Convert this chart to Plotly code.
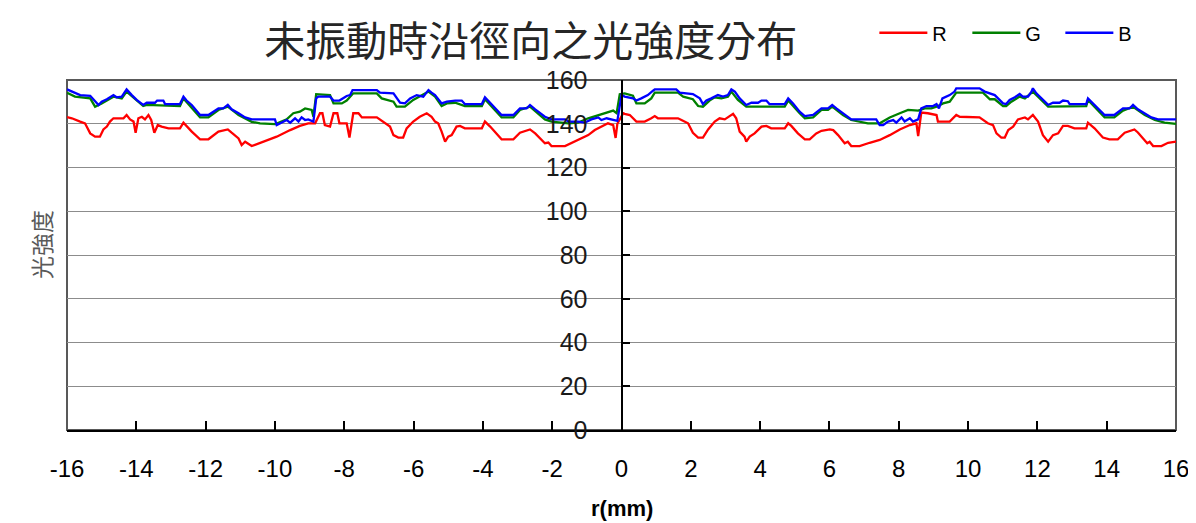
import plotly.graph_objects as go

# ---------------- data ----------------
r_x = [-16.0, -15.86, -15.62, -15.48, -15.33, -15.19, -15.05, -14.95, -14.85, -14.76, -14.66, -14.37, -14.28,
       -14.18, -14.08, -14.02, -13.94, -13.84, -13.75, -13.65, -13.57, -13.48, -13.38, -13.27, -13.07, -12.74,
       -12.64, -12.55, -12.40, -12.16, -11.92, -11.63, -11.49, -11.36, -11.25, -11.05, -10.96, -10.86, -10.67,
       -10.33, -9.95, -9.56, -9.28, -9.04, -8.84, -8.70, -8.63, -8.56, -8.41, -8.31, -8.20, -8.14, -7.93,
       -7.85, -7.79, -7.74, -7.59, -7.49, -7.06, -6.87, -6.68, -6.58, -6.44, -6.30, -6.20, -6.01, -5.82,
       -5.62, -5.48, -5.38, -5.29, -5.19, -5.09, -5.00, -4.90, -4.76, -4.66, -4.52, -4.03, -3.94, -3.79,
       -3.46, -3.12, -2.93, -2.74, -2.64, -2.49, -2.30, -2.21, -2.11, -2.02, -1.63, -1.44, -1.25, -0.96,
       -0.77, -0.58, -0.39, -0.24, -0.17, -0.12, -0.05, 0.05, 0.09, 0.24, 0.43, 0.67, 0.86, 0.96, 1.05,
       1.63, 1.73, 1.92, 2.06, 2.21, 2.35, 2.50, 2.69, 2.83, 2.98, 3.07, 3.22, 3.31, 3.41, 3.55, 3.60,
       3.70, 3.84, 4.04, 4.18, 4.32, 4.71, 4.81, 4.90, 5.09, 5.29, 5.43, 5.62, 5.77, 6.01, 6.11, 6.25,
       6.44, 6.53, 6.63, 6.87, 7.16, 7.45, 7.74, 8.03, 8.32, 8.51, 8.56, 8.60, 8.65, 8.84, 9.09, 9.13,
       9.47, 9.66, 9.76, 10.33, 10.48, 10.57, 10.72, 10.82, 10.96, 11.06, 11.16, 11.30, 11.44, 11.64,
       11.73, 11.87, 12.02, 12.16, 12.31, 12.45, 12.60, 12.74, 12.88, 13.07, 13.41, 13.46, 13.65, 13.89,
       14.08, 14.32, 14.52, 14.71, 14.80, 14.90, 15.05, 15.17, 15.24, 15.34, 15.58, 15.77, 16.0]
r_y = [143.0, 142.5, 141.0, 140.2, 135.6, 134.1, 134.1, 137.4, 138.7, 141.0, 142.5, 142.5, 144.0,
       142.0, 141.0, 135.9, 142.5, 143.2, 142.0, 144.0, 141.7, 135.9, 139.4, 138.7, 137.9, 137.9,
       140.5, 139.0, 136.4, 132.9, 132.9, 136.4, 136.8, 137.4, 135.9, 133.3, 130.3, 131.8, 129.8,
       131.8, 134.1, 137.1, 139.0, 140.2, 140.2, 144.8, 144.8, 139.4, 138.7, 144.8, 144.8, 140.2, 140.2,
       133.7, 140.2, 144.8, 144.8, 142.9, 142.9, 141.0, 138.7, 134.8, 133.7, 133.7, 137.9, 141.0, 143.2,
       144.8, 143.2, 141.0, 140.2, 136.4, 131.8, 134.1, 134.8, 138.7, 139.0, 137.9, 137.9, 141.0, 138.7,
       132.9, 132.9, 135.9, 136.8, 137.4, 135.6, 132.6, 131.1, 131.4, 129.8, 129.8, 131.3, 132.6, 134.8,
       137.1, 138.7, 140.2, 139.4, 133.5, 140.0, 142.0, 144.8, 144.5, 144.0, 141.0, 141.0, 142.5, 143.5, 142.5,
       142.5, 141.7, 140.2, 135.9, 133.7, 133.7, 137.4, 141.0, 142.5, 142.0, 142.9, 144.5, 142.5, 136.4, 134.1, 131.8,
       134.1, 135.6, 138.7, 139.0, 137.9, 137.9, 140.2, 139.0, 135.6, 132.9, 132.9, 135.6, 136.8, 137.4, 137.1, 134.8,
       131.1, 131.8, 129.8, 129.8, 131.3, 132.6, 134.8, 137.4, 139.4, 140.2, 134.4, 140.2, 145.1, 144.8, 144.0, 141.0,
       141.0, 144.0, 143.2, 142.9, 141.0, 140.2, 139.4, 135.6, 133.7, 133.7, 137.1, 138.7, 142.0, 142.9,
       142.0, 144.0, 141.0, 134.8, 131.8, 134.8, 135.6, 139.0, 139.0, 137.9, 137.9, 140.5, 137.9, 133.7,
       132.9, 132.9, 135.9, 136.8, 137.4, 136.0, 133.3, 131.1, 131.8, 129.8, 129.8, 131.3, 131.8]

g_x = [-16.0, -15.77, -15.33, -15.19, -15.0, -14.66, -14.42, -14.28, -13.80, -13.70, -12.74, -12.64, -12.16,
       -11.92, -11.63, -11.36, -11.05, -10.67, -10.43, -10.0, -9.66, -9.47, -9.28, -9.13, -8.94, -8.89,
       -8.81, -8.41, -8.31, -8.07, -7.93, -7.74, -7.06, -6.92, -6.58, -6.49, -6.25, -6.01, -5.57, -5.38,
       -5.19, -5.04, -4.80, -4.52, -4.03, -3.94, -3.46, -3.12, -2.93, -2.64, -2.21, -2.02, -1.53, -1.25,
       -0.96, -0.67, -0.48, -0.24, -0.14, -0.05, 0.09, 0.33, 0.43, 0.67, 0.86, 0.96, 1.63, 1.78, 2.06,
       2.21, 2.35, 2.54, 2.69, 2.88, 3.07, 3.17, 3.36, 3.60, 4.71, 4.81, 5.14, 5.29, 5.53, 5.77, 5.96,
       6.08, 6.20, 6.39, 6.63, 6.92, 7.11, 7.45, 7.74, 8.03, 8.27, 8.56, 8.75, 8.94, 9.09, 9.28, 9.47,
       9.66, 10.43, 10.63, 10.77, 11.01, 11.10, 11.25, 11.49, 11.64, 11.87, 12.31, 12.93, 13.41, 13.46,
       13.94, 14.22, 14.47, 14.76, 15.10, 15.39, 15.67, 16.0]
g_y = [154.2, 152.4, 151.6, 147.8, 149.3, 152.4, 151.6, 154.7, 148.1, 148.6, 148.1, 151.6, 142.9,
       142.9, 146.3, 147.8, 144.0, 140.9, 140.2, 139.8, 142.0, 144.8, 145.5, 147.0, 146.3, 143.2,
       153.5, 153.1, 149.3, 149.3, 150.6, 153.9, 153.9, 151.6, 150.1, 147.8, 147.8, 150.9, 154.7, 152.4,
       148.1, 149.3, 149.6, 148.1, 148.1, 151.2, 142.9, 142.9, 146.3, 147.8, 142.0, 141.0, 140.2, 140.5,
       142.5, 144.0, 145.1, 146.0, 144.8, 153.5, 153.9, 152.8, 149.3, 149.3, 151.6, 154.2, 154.2, 152.4, 151.2,
       148.1, 147.8, 150.6, 152.1, 151.6, 152.4, 154.7, 150.9, 147.8, 147.8, 150.6, 144.8, 142.5, 142.9, 146.3, 146.3,
       147.8, 146.3, 144.0, 141.7, 141.0, 140.2, 140.2, 142.9, 144.8, 146.3, 146.0, 147.0, 147.0, 147.8, 149.3, 150.1,
       154.2, 154.2, 151.2, 151.2, 148.1, 148.1, 150.1, 152.4, 151.6, 154.7, 147.8, 147.8, 148.1, 150.9,
       142.9, 142.9, 146.0, 147.8, 144.0, 141.7, 140.5, 139.9]

b_x = [-16.0, -15.77, -15.62, -15.33, -15.09, -15.0, -14.85, -14.66, -14.57, -14.42, -14.28, -14.13, -13.99,
       -13.80, -13.70, -13.46, -13.40, -13.22, -13.17, -12.74, -12.64, -12.55, -12.40, -12.16, -11.92, -11.63,
       -11.49, -11.36, -11.25, -11.05, -10.86, -10.67, -10.0, -9.95, -9.80, -9.66, -9.56, -9.42, -9.32, -9.23,
       -9.13, -9.04, -8.89, -8.81, -8.75, -8.41, -8.31, -8.14, -7.93, -7.83, -7.76, -7.06, -6.97, -6.58, -6.39,
       -6.25, -6.10, -5.91, -5.72, -5.57, -5.48, -5.38, -5.19, -5.04, -4.80, -4.61, -4.52, -4.03, -3.94, -3.79,
       -3.46, -3.12, -2.93, -2.74, -2.64, -2.49, -2.21, -2.02, -1.63, -1.53, -1.25, -1.06, -0.87, -0.67, -0.58,
       -0.43, -0.24, -0.12, 0.0, 0.09, 0.33, 0.43, 0.57, 0.76, 0.91, 0.96, 1.58, 1.68, 2.06, 2.26, 2.35, 2.45,
       2.59, 2.78, 2.93, 3.07, 3.17, 3.27, 3.41, 3.60, 3.75, 3.94, 4.04, 4.18, 4.27, 4.71, 4.81, 4.95, 5.14,
       5.29, 5.53, 5.77, 5.96, 6.08, 6.20, 6.39, 6.63, 7.35, 7.45, 7.55, 7.69, 7.84, 7.93, 8.08, 8.17, 8.32,
       8.41, 8.56, 8.65, 8.80, 8.99, 9.09, 9.16, 9.26, 9.47, 9.61, 9.66, 10.33, 10.48, 10.77, 11.01, 11.10,
       11.20, 11.35, 11.49, 11.58, 11.73, 11.83, 11.87, 11.97, 12.16, 12.31, 12.45, 12.64, 12.74, 12.88,
       12.93, 13.41, 13.46, 13.65, 13.94, 14.22, 14.47, 14.66, 14.76, 14.90, 15.10, 15.29, 15.48, 16.0]
b_y = [155.7, 153.9, 153.1, 152.8, 148.6, 150.1, 151.2, 153.1, 152.1, 152.4, 155.7, 153.1, 150.9,
       148.6, 149.6, 149.6, 150.6, 150.6, 149.0, 149.0, 152.4, 150.6, 148.6, 144.0, 144.0, 147.0,
       147.0, 148.6, 146.6, 144.8, 142.9, 142.0, 142.0, 139.4, 140.5, 141.7, 140.5, 142.5, 141.0, 142.9,
       141.7, 142.0, 141.0, 151.6, 152.4, 152.4, 150.6, 150.6, 152.7, 153.1, 155.4, 155.4, 154.2, 153.9, 149.6,
       149.3, 151.6, 153.1, 152.4, 155.4, 154.2, 153.1, 149.3, 150.1, 150.6, 150.6, 149.0, 149.0, 152.1, 149.6,
       144.0, 144.0, 147.0, 147.0, 148.6, 146.6, 143.2, 142.0, 142.0, 141.0, 141.0, 140.5, 142.0, 142.9, 141.7,
       142.5, 141.7, 141.3, 153.1, 152.4, 151.6, 150.6, 151.6, 153.1, 155.1, 155.7, 155.7, 154.2, 153.6, 151.6, 149.0, 150.6,
       151.6, 153.1, 152.4, 153.1, 155.7, 154.7, 151.6, 148.6, 149.6, 149.6, 150.6, 150.6, 149.0, 149.0, 151.6, 149.3, 145.5,
       143.5, 144.0, 147.0, 147.0, 148.6, 147.0, 144.8, 142.0, 142.0, 139.4, 139.4, 141.0, 141.7, 140.5, 142.9, 141.0, 142.5,
       141.0, 142.0, 147.0, 148.1, 148.1, 149.0, 147.0, 151.6, 153.1, 154.7, 156.2, 156.2, 154.7, 153.1, 149.3, 149.0,
       150.9, 152.1, 153.6, 152.4, 152.4, 154.7, 156.2, 153.9, 150.9, 148.6, 149.6, 149.6, 150.6, 150.3,
       149.0, 149.0, 151.6, 148.6, 144.0, 144.0, 147.0, 147.0, 148.6, 146.6, 144.8, 142.9, 142.0, 142.0]

series_names = ["R", "G", "B"]
series_colors = ["#ff0000", "#008000", "#0000ff"]

title_text = "未振動時沿徑向之光強度分布"
x_title = "r(mm)"
y_title = "光強度"
x_ticks = list(range(-16, 17, 2))
x_ticktext = [str(v) for v in x_ticks]   # ASCII hyphen for negatives, as in the reference
y_ticks = list(range(0, 161, 20))

# ---------------- figure ----------------
fig = go.Figure()
for name, color, xs, ys in zip(series_names, series_colors, [r_x, g_x, b_x], [r_y, g_y, b_y]):
    fig.add_trace(go.Scatter(x=xs, y=ys, mode="lines", name=name,
                             line=dict(color=color, width=2.3)))

fig.update_layout(
    width=1188, height=515,
    margin=dict(l=59, r=20, t=72, b=93, autoexpand=False),
    paper_bgcolor="white", plot_bgcolor="white",
    font=dict(family="Liberation Sans, Arial, sans-serif", color="#000000"),
    title=dict(text=title_text, x=0.440, xanchor="center", y=0.935, yanchor="middle",
               font=dict(family="Noto Sans CJK TC, sans-serif", size=41, color="#262626")),
    showlegend=True,
    legend=dict(orientation="h", x=0.728, xanchor="left", y=1.135, yanchor="middle",
                font=dict(family="Liberation Sans, Arial, sans-serif", size=20, color="#000000"),
                bgcolor="rgba(0,0,0,0)", entrywidth=30, entrywidthmode="pixels",
                itemwidth=48, tracegroupgap=0),
    xaxis=dict(range=[-16, 16], tickvals=x_ticks, ticktext=x_ticktext, ticks="inside", ticklen=9,
               tickwidth=1.5, tickcolor="#000000", showline=True, linecolor="#000000", linewidth=2,
               showgrid=False, zeroline=False, ticklabelstandoff=16,
               tickfont=dict(family="Liberation Sans, Arial, sans-serif", size=24)),
    yaxis=dict(range=[0, 160], tickvals=y_ticks, ticks="inside", ticklen=7, tickwidth=1.5,
               tickcolor="#000000", showline=True, linecolor="#000000", linewidth=2,
               anchor="free", position=0.5, showgrid=True, gridcolor="#8c8c8c", gridwidth=1,
               zeroline=False, ticklabelstandoff=28,
               tickfont=dict(family="Liberation Sans, Arial, sans-serif", size=25, color="#1a1a1a")),
)

# plot frame (left, right, top borders)
fig.add_shape(type="rect", xref="paper", yref="paper", x0=0, x1=1, y0=0, y1=1,
              line=dict(color="#595959", width=2), layer="below")

fig.add_annotation(text=y_title, xref="paper", yref="paper", x=-0.024, y=0.53,
                   xanchor="center", yanchor="middle", textangle=-90, showarrow=False,
                   font=dict(family="Noto Sans CJK TC, sans-serif", size=23, color="#595959"))
fig.add_annotation(text="<b>" + x_title + "</b>", xref="paper", yref="paper", x=0.5, y=-0.225,
                   xanchor="center", yanchor="middle", showarrow=False,
                   font=dict(family="Liberation Sans, Arial, sans-serif", size=22, color="#000000"))

fig.write_html("out.html")
